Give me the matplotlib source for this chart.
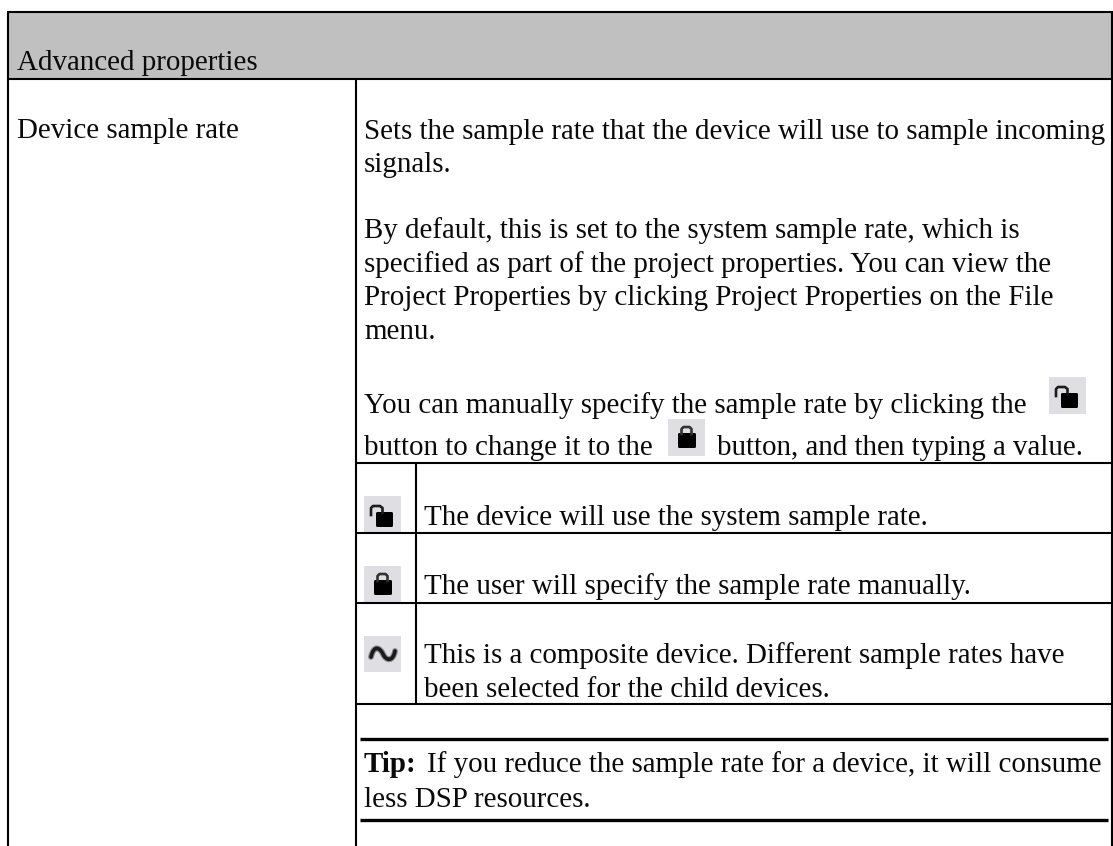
import matplotlib
matplotlib.use("Agg")
import matplotlib.pyplot as plt
from matplotlib.patches import Rectangle, FancyBboxPatch, PathPatch
from matplotlib.path import Path

header = "Advanced properties"
prop_name = "Device sample rate"
body_lines = [
    "Sets the sample rate that the device will use to sample incoming",
    "signals.",
    "By default, this is set to the system sample rate, which is",
    "specified as part of the project properties. You can view the",
    "Project Properties by clicking Project Properties on the File",
    "menu.",
    "You can manually specify the sample rate by clicking the",
    "button to change it to the",
]
body_y = [139, 172, 238, 272, 305, 339, 413, 455]
after_icon = "button, and then typing a value."
row_lines = [
    "The device will use the system sample rate.",
    "The user will specify the sample rate manually.",
    "This is a composite device. Different sample rates have",
    "been selected for the child devices.",
]
row_y = [525, 594, 663, 697]
tip_bold = "Tip:"
tip_lines = ["If you reduce the sample rate for a device, it will consume", "less DSP resources."]

plt.rcParams["font.family"] = ["Liberation Serif"]
FS = 20.85

fig = plt.figure(figsize=(11.13, 8.46), dpi=100)
ax = fig.add_axes([0, 0, 1, 1])
ax.set_xlim(0, 1113)
ax.set_ylim(846, 0)
ax.axis("off")


def hline(y, x0, x1, lw=1.5):
    ax.plot([x0, x1], [y, y], color="black", lw=lw, solid_capstyle="butt")


def vline(x, y0, y1, lw=1.5):
    ax.plot([x, x], [y0, y1], color="black", lw=lw, solid_capstyle="butt")


def text(x, y, s, **kw):
    ax.text(x, y, s, fontsize=FS, va="baseline", ha="left", color="#0a0a0a", **kw)


def rounded(x, y, w, h):
    ax.add_patch(FancyBboxPatch((x + 1, y + 1), w - 2, h - 2, boxstyle="round,pad=1,rounding_size=1.5",
                                fc="black", ec="none"))


def lock_icon(x, y, is_open=False):
    ax.add_patch(Rectangle((x, y), 37, 37, color="#dfdfe3", lw=0))
    if is_open:
        xs = [x + 7, x + 7, x + 9, x + 16, x + 18.5, x + 18.5]
        ys = [y + 19, y + 12, y + 10, y + 10, y + 12, y + 17]
        ax.plot(xs, ys, color="#1c1c1c", lw=1.9, solid_joinstyle="round")
        rounded(x + 12, y + 16, 17, 15)
    else:
        xs = [x + 13.5, x + 13.5, x + 15.5, x + 21.5, x + 23.5, x + 23.5]
        ys = [y + 15, y + 10, y + 8, y + 8, y + 10, y + 15]
        ax.plot(xs, ys, color="#333333", lw=1.9, solid_joinstyle="round")
        rounded(x + 10, y + 14, 18, 15)


def wave_icon(x, y):
    ax.add_patch(Rectangle((x, y), 37, 36, color="#dfdfe3", lw=0))
    verts = [(x + 7, y + 21), (x + 10, y + 8), (x + 16, y + 12), (x + 19, y + 18),
             (x + 22, y + 25), (x + 29, y + 26), (x + 31, y + 15)]
    codes = [Path.MOVETO, Path.CURVE4, Path.CURVE4, Path.CURVE4, Path.CURVE4, Path.CURVE4, Path.CURVE4]
    ax.add_patch(PathPatch(Path(verts, codes), fc="none", ec="#8a8a8e", lw=4.2, capstyle="round"))
    ax.add_patch(PathPatch(Path(verts, codes), fc="none", ec="#1a1a1a", lw=2.6, capstyle="round"))


ax.add_patch(Rectangle((8, 12), 1104, 67, color="#c0c0c0", lw=0))
hline(12, 7, 1113)
hline(79, 7, 1113)
vline(8, 12, 846)
vline(1112, 12, 846)
vline(356, 79, 846)
hline(463.5, 356, 1112)
hline(533.5, 356, 1112)
hline(603.5, 356, 1112)
hline(704, 356, 1112)
vline(416, 463.5, 704)
hline(739.5, 360, 1108, lw=2.4)
hline(820.5, 360, 1108, lw=2.4)

text(17, 70, header)
text(17, 138, prop_name)
for s, y in zip(body_lines, body_y):
    text(364, y, s)
text(717, 455, after_icon)
for s, y in zip(row_lines, row_y):
    text(424, y, s)
text(364, 772, tip_bold, fontweight="bold")
text(427, 772, tip_lines[0])
text(364, 807, tip_lines[1])

lock_icon(1049, 377, is_open=True)
lock_icon(668, 419, is_open=False)
lock_icon(364, 496, is_open=True)
lock_icon(364, 566, is_open=False)
wave_icon(364, 636)

fig.savefig("out.png", dpi=100)
